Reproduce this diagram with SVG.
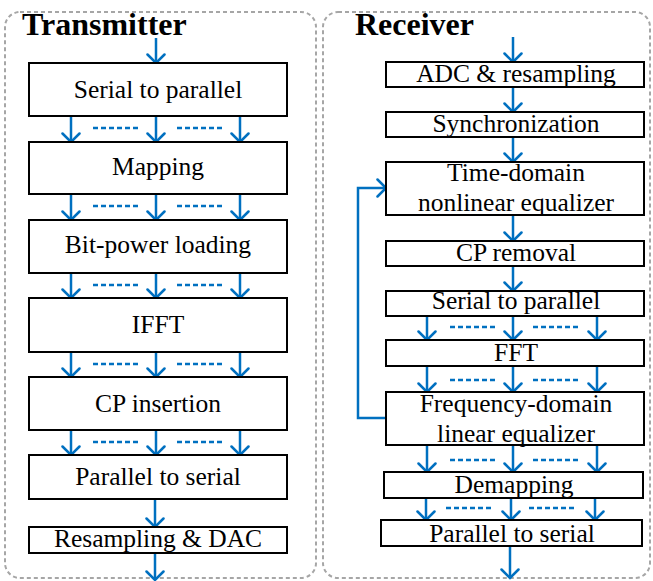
<svg xmlns="http://www.w3.org/2000/svg" width="653" height="581" viewBox="0 0 653 581">
<style>
.panel{fill:none;stroke:#A6A6A6;stroke-width:2;stroke-dasharray:4 3}
.box{fill:#fff;stroke:#000;stroke-width:2}
.t{font-family:"Liberation Serif","Times New Roman",serif;font-size:25.5px;fill:#000;text-anchor:middle}
.title{font-family:"Liberation Serif","Times New Roman",serif;font-size:32px;font-weight:bold;fill:#000}
.ar{fill:none;stroke:#0070C0;stroke-width:2.5;marker-end:url(#ah)}
.dl{fill:none;stroke:#0070C0;stroke-width:2.5;stroke-dasharray:5 3}
</style>
<defs>
<marker id="ah" markerUnits="userSpaceOnUse" viewBox="0 0 20 20" refX="10" refY="10" markerWidth="20" markerHeight="20" orient="auto">
<path d="M1.5,1.5 L10,10 L1.5,18.5" fill="none" stroke="#0070C0" stroke-width="2.5" stroke-linecap="round"/>
</marker>
</defs>
<rect class="panel" x="5" y="12" width="311" height="566" rx="15"/>
<rect class="panel" x="323" y="12" width="327" height="566" rx="15"/>
<text class="title" x="22" y="35">Transmitter</text>
<text class="title" x="355" y="35">Receiver</text>

<g id="connectors">
<!-- transmitter -->
<line class="ar" x1="156" y1="38" x2="156" y2="63"/>
<line class="ar" x1="71" y1="116" x2="71" y2="142"/><line class="ar" x1="156" y1="116" x2="156" y2="142"/><line class="ar" x1="240" y1="116" x2="240" y2="142"/>
<line class="dl" x1="93" y1="128" x2="140" y2="128"/><line class="dl" x1="177" y1="128" x2="223" y2="128"/>
<line class="ar" x1="71" y1="194" x2="71" y2="220"/><line class="ar" x1="156" y1="194" x2="156" y2="220"/><line class="ar" x1="240" y1="194" x2="240" y2="220"/>
<line class="dl" x1="93" y1="206" x2="140" y2="206"/><line class="dl" x1="177" y1="206" x2="223" y2="206"/>
<line class="ar" x1="71" y1="273" x2="71" y2="298"/><line class="ar" x1="156" y1="273" x2="156" y2="298"/><line class="ar" x1="240" y1="273" x2="240" y2="298"/>
<line class="dl" x1="93" y1="285" x2="140" y2="285"/><line class="dl" x1="177" y1="285" x2="223" y2="285"/>
<line class="ar" x1="71" y1="352" x2="71" y2="377"/><line class="ar" x1="156" y1="352" x2="156" y2="377"/><line class="ar" x1="240" y1="352" x2="240" y2="377"/>
<line class="dl" x1="93" y1="364" x2="140" y2="364"/><line class="dl" x1="177" y1="364" x2="223" y2="364"/>
<line class="ar" x1="71" y1="430" x2="71" y2="455"/><line class="ar" x1="156" y1="430" x2="156" y2="455"/><line class="ar" x1="240" y1="430" x2="240" y2="455"/>
<line class="dl" x1="93" y1="442" x2="140" y2="442"/><line class="dl" x1="177" y1="442" x2="223" y2="442"/>
<line class="ar" x1="155" y1="499" x2="155" y2="527"/>
<line class="ar" x1="155" y1="553" x2="155" y2="580"/>
<!-- receiver -->
<line class="ar" x1="513" y1="37" x2="513" y2="62"/>
<line class="ar" x1="513" y1="87" x2="513" y2="112"/>
<line class="ar" x1="513" y1="137" x2="513" y2="162"/>
<line class="ar" x1="513" y1="215" x2="513" y2="241"/>
<line class="ar" x1="513" y1="266" x2="513" y2="291"/>
<line class="ar" x1="427" y1="316" x2="427" y2="340"/><line class="ar" x1="513" y1="316" x2="513" y2="340"/><line class="ar" x1="597" y1="316" x2="597" y2="340"/>
<line class="dl" x1="450" y1="327" x2="497" y2="327"/><line class="dl" x1="533" y1="327" x2="580" y2="327"/>
<line class="ar" x1="427" y1="366" x2="427" y2="392"/><line class="ar" x1="513" y1="366" x2="513" y2="392"/><line class="ar" x1="597" y1="366" x2="597" y2="392"/>
<line class="dl" x1="450" y1="380" x2="497" y2="380"/><line class="dl" x1="533" y1="380" x2="580" y2="380"/>
<line class="ar" x1="427" y1="445" x2="427" y2="472"/><line class="ar" x1="513" y1="445" x2="513" y2="472"/><line class="ar" x1="597" y1="445" x2="597" y2="472"/>
<line class="dl" x1="450" y1="460" x2="497" y2="460"/><line class="dl" x1="533" y1="460" x2="580" y2="460"/>
<line class="ar" x1="426" y1="498" x2="426" y2="520"/><line class="ar" x1="511" y1="498" x2="511" y2="520"/><line class="ar" x1="595" y1="498" x2="595" y2="520"/>
<line class="dl" x1="446" y1="508" x2="493" y2="508"/><line class="dl" x1="529" y1="508" x2="576" y2="508"/>
<line class="ar" x1="510" y1="546" x2="510" y2="578"/>
<polyline class="ar" points="386,418 358,418 358,188 386,188"/>
</g>

<g id="tx1"><rect class="box" x="29" y="63" width="258" height="53"/><text class="t" x="158" y="98">Serial to parallel</text></g>
<g id="tx2"><rect class="box" x="29" y="142" width="258" height="52"/><text class="t" x="158" y="175">Mapping</text></g>
<g id="tx3"><rect class="box" x="29" y="220" width="258" height="53"/><text class="t" x="158" y="253">Bit-power loading</text></g>
<g id="tx4"><rect class="box" x="29" y="298" width="258" height="54"/><text class="t" x="158" y="333">IFFT</text></g>
<g id="tx5"><rect class="box" x="29" y="377" width="258" height="53"/><text class="t" x="158" y="412">CP insertion</text></g>
<g id="tx6"><rect class="box" x="29" y="455" width="258" height="44"/><text class="t" x="158" y="485">Parallel to serial</text></g>
<g id="tx7"><rect class="box" x="29" y="527" width="258" height="26"/><text class="t" x="158" y="547">Resampling &amp; DAC</text></g>

<g id="rx1"><rect class="box" x="386" y="62" width="258" height="25"/><text class="t" x="516" y="82">ADC &amp; resampling</text></g>
<g id="rx2"><rect class="box" x="386" y="112" width="258" height="25"/><text class="t" x="516" y="132">Synchronization</text></g>
<g id="rx3"><rect class="box" x="386" y="162" width="258" height="53"/><text class="t" x="516" y="181">Time-domain</text><text class="t" x="516" y="211">nonlinear equalizer</text></g>
<g id="rx4"><rect class="box" x="386" y="241" width="258" height="25"/><text class="t" x="516" y="261">CP removal</text></g>
<g id="rx5"><rect class="box" x="386" y="291" width="258" height="25"/><text class="t" x="516" y="309">Serial to parallel</text></g>
<g id="rx6"><rect class="box" x="386" y="340" width="258" height="26"/><text class="t" x="516" y="361">FFT</text></g>
<g id="rx7"><rect class="box" x="386" y="392" width="258" height="53"/><text class="t" x="516" y="412">Frequency-domain</text><text class="t" x="516" y="442">linear equalizer</text></g>
<g id="rx8"><rect class="box" x="384" y="472" width="259" height="26"/><text class="t" x="514" y="493">Demapping</text></g>
<g id="rx9"><rect class="box" x="381" y="520" width="261" height="26"/><text class="t" x="512" y="542">Parallel to serial</text></g>
</svg>
